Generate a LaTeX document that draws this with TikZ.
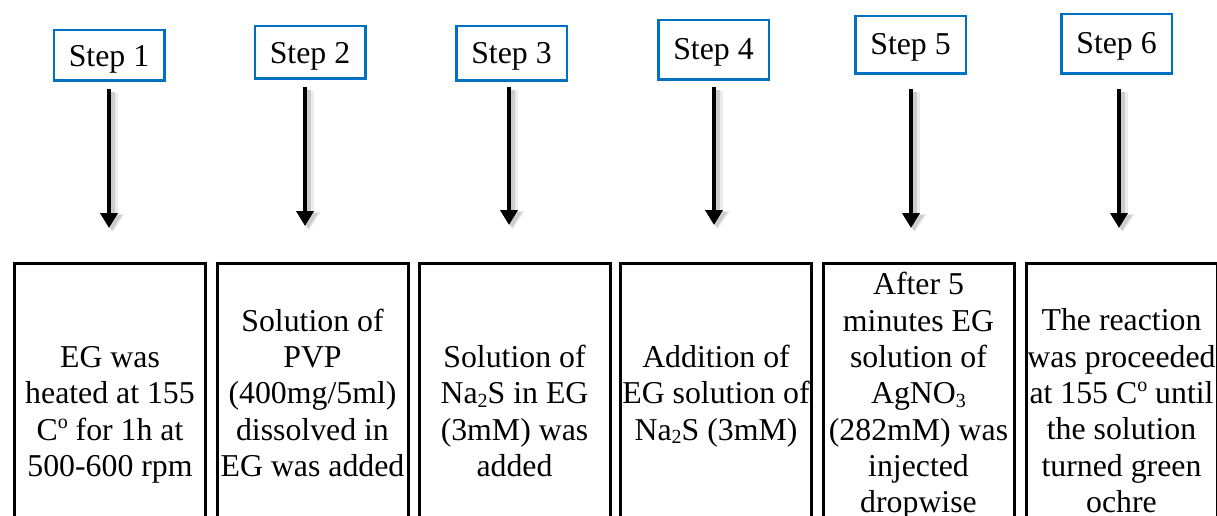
\documentclass[tikz,border=0pt]{standalone}
\usepackage{fontspec}
\setmainfont{Liberation Serif}
\usetikzlibrary{arrows.meta}
\definecolor{stepblue}{RGB}{0,112,192}
% small raised "o" (degree mark) and lowered chemical index
\newcommand\degsup{\raisebox{0.36em}{\fontsize{20}{20}\selectfont o}}
\newcommand\chemsub[1]{\raisebox{-0.12em}{\fontsize{20}{20}\selectfont #1}}

\begin{document}
\begin{tikzpicture}[x=1pt,y=-1pt,
  every node/.style={font=\fontsize{31.8}{36.3}\selectfont},
  stepbox/.style={draw=stepblue,line width=2.5pt,fill=white,inner xsep=0pt,inner ysep=0pt,minimum width=110.5pt},
  procbox/.style={draw=black,line width=3pt,minimum width=191pt,minimum height=290pt,anchor=north,inner sep=0pt},
  proctext/.style={align=center,inner sep=0pt},
  flow/.style={line width=4pt,-{Triangle[width=17pt,length=15pt]}},
  shadeA/.style={line width=9pt,draw=black!8,fill=black!8,-{Triangle[width=22pt,length=18pt]}},
  shadeB/.style={line width=6pt,draw=black!20,fill=black!20,-{Triangle[width=19pt,length=16pt]}},
]
\useasboundingbox (0,0) rectangle (1217,516);
\fill[white] (0,0) rectangle (1217,516);
\clip (0,0) rectangle (1217,516);

% step labels
\node[stepbox,text height=36.75pt,text depth=13.75pt] (s1) at (109,55.5) {Step 1};
\node[stepbox,text height=37pt,text depth=15.5pt]    (s2) at (310,52.5) {Step 2};
\node[stepbox,text height=37pt,text depth=17.5pt]    (s3) at (511.5,53.5) {Step 3};
\node[stepbox,text height=39.7pt,text depth=19.8pt]  (s4) at (713.5,50) {Step 4};
\node[stepbox,text height=38.7pt,text depth=18.8pt]  (s5) at (910.5,45) {Step 5};
\node[stepbox,text height=39pt,text depth=20.5pt]    (s6) at (1116.5,44) {Step 6};

% arrow tips
\coordinate (e1) at (109,228);
\coordinate (e2) at (305,226);
\coordinate (e3) at (509,225);
\coordinate (e4) at (714,225);
\coordinate (e5) at (911,228);
\coordinate (e6) at (1119,228);

% arrows (with a soft shadow), gap below each step label
\foreach \i/\gap in {1/7.25,2/7.25,3/5.25,4/6.25,5/14.25,6/14.25}{
  \draw[shadeA,shorten <=\gap pt] ([shift={(4,4)}]s\i.south -| e\i) -- ([shift={(4,4)}]e\i);
  \draw[shadeB,shorten <=\gap pt] ([shift={(3,3)}]s\i.south -| e\i) -- ([shift={(3,3)}]e\i);
}
\foreach \i/\gap in {1/7.25,2/7.25,3/5.25,4/6.25,5/14.25,6/14.25}{
  \draw[flow,shorten <=\gap pt] (s\i.south -| e\i) -- (e\i);
}

% process boxes
\node[procbox] (b1) at (110,261.5) {};
\node[procbox] (b2) at (312.5,261.5) {};
\node[procbox] (b3) at (514.5,261.5) {};
\node[procbox] (b4) at (716,261.5) {};
\node[procbox] (b5) at (918.5,261.5) {};
\node[procbox] (b6) at (1121.5,261.5) {};

\node[proctext] (t1) at (110,415) {EG was\\heated at 155\\C\degsup{} for 1h at\\500-600 rpm};
\node[proctext] (t2) at (312.5,392.7) {Solution of\\PVP\\(400mg/5ml)\\dissolved in\\EG was added};
\node[proctext] (t3) at (514.5,411) {Solution of\\Na\chemsub{2}S in EG\\(3mM) was\\added};
\node[proctext] (t4) at (716,396) {Addition of\\EG solution of\\Na\chemsub{2}S (3mM)};
\node[proctext] (t5) at (918.5,396) {After 5\\minutes EG\\solution of\\AgNO\chemsub{3}\\(282mM) was\\injected\\dropwise};
\node[proctext] (t6) at (1121.5,410.7) {The reaction\\was proceeded\\at 155 C\degsup{} until\\the solution\\turned green\\ochre};
\end{tikzpicture}
\end{document}
